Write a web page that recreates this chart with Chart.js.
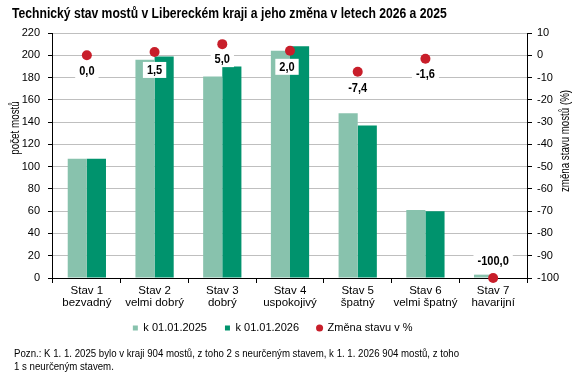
<!DOCTYPE html>
<html><head><meta charset="utf-8">
<script src="https://cdn.jsdelivr.net/npm/chart.js@4.4.1/dist/chart.umd.min.js"></script>
<style>
html,body{margin:0;padding:0;background:#fff;}
#wrap{position:relative;width:576px;height:376px;overflow:hidden;background:#fff;}
#title{position:absolute;left:12px;top:5px;font:bold 14px 'Liberation Sans',Arial,sans-serif;color:#000;white-space:nowrap;transform:scaleX(0.868);transform-origin:0 0;}
#note{position:absolute;left:14px;top:347px;font:11px/13px 'Liberation Sans',Arial,sans-serif;color:#000;white-space:nowrap;transform:scaleX(0.878);transform-origin:0 0;}
canvas{position:absolute;left:0;top:0;}
</style></head>
<body><div id="wrap">
<canvas id="c" width="576" height="376"></canvas>
<div id="title">Technický stav mostů v Libereckém kraji a jeho změna v letech 2026 a 2025</div>
<div id="note">Pozn.: K 1. 1. 2025 bylo v kraji 904 mostů, z toho 2 s neurčeným stavem, k 1. 1. 2026 904 mostů, z toho<br>1 s neurčeným stavem.</div>
</div>
<script>
// ---- data ----
const categories = [["Stav 1","bezvadný"],["Stav 2","velmi dobrý"],["Stav 3","dobrý"],["Stav 4","uspokojivý"],["Stav 5","špatný"],["Stav 6","velmi špatný"],["Stav 7","havarijní"]];
const count2025 = [107, 196, 181, 204, 148, 61, 3];
const count2026 = [107, 199, 190, 208, 137, 60, 0];
const changePct = [0.0, 1.5, 5.0, 2.0, -7.4, -1.6, -100.0];
const seriesNames = ["k 01.01.2025", "k 01.01.2026", "Změna stavu v %"];
const leftAxisTitle = "počet mostů";
const rightAxisTitle = "změna stavu mostů (%)";

// ---- styles ----
const FONT = "'Liberation Sans',Arial,sans-serif";
const COL_LIGHT = '#88C2AD';
const COL_DARK = '#00936D';
const COL_RED = '#C81E2A';
const labelOffsets = [[0,16],[0,18],[0,15],[-3,16],[0,16],[0,15],[0,-17]];

const fmt = v => v.toFixed(1).replace('.', ',');

function narrowText(ctx, txt, x, y, rot, sx) {
  ctx.save();
  ctx.translate(x, y);
  if (rot) ctx.rotate(rot);
  ctx.scale(sx, 1);
  ctx.fillText(txt, 0, 0);
  ctx.restore();
}

const extras = {
  id: 'extras',
  afterLayout(chart) {
    // lift the legend row so it sits just under the two-line category labels
    const lg = chart.legend;
    if (lg) { lg.top -= 6.5; lg.bottom -= 6.5; }
  },
  afterDatasetsDraw(chart) {
    const ctx = chart.ctx;
    const meta = chart.getDatasetMeta(2);
    ctx.save();
    ctx.font = 'bold 13px ' + FONT;
    ctx.textAlign = 'center';
    ctx.textBaseline = 'middle';
    meta.data.forEach((pt, i) => {
      const txt = fmt(changePct[i]);
      const x = pt.x + labelOffsets[i][0], y = pt.y + labelOffsets[i][1];
      const w = ctx.measureText(txt).width * 0.85 + 8;
      ctx.fillStyle = '#fff';
      ctx.fillRect(x - w / 2, y - 8, w, 16);
      ctx.fillStyle = '#000';
      narrowText(ctx, txt, x, y + 0.5, 0, 0.85);
    });
    ctx.restore();
  },
  afterDraw(chart) {
    const ctx = chart.ctx;
    ctx.save();
    ctx.font = '12px ' + FONT;
    ctx.fillStyle = '#000';
    ctx.textAlign = 'center';
    ctx.textBaseline = 'middle';
    narrowText(ctx, leftAxisTitle, 16, 128, -Math.PI / 2, 0.82);
    narrowText(ctx, rightAxisTitle, 566, 141, -Math.PI / 2, 0.81);
    ctx.restore();
  }
};

new Chart(document.getElementById('c'), {
  data: {
    labels: categories,
    datasets: [
      { type: 'bar', label: seriesNames[0], data: count2025, backgroundColor: COL_LIGHT, borderWidth: 0, yAxisID: 'y', pointStyle: 'rect', barPercentage: 1, categoryPercentage: 0.565 },
      { type: 'bar', label: seriesNames[1], data: count2026, backgroundColor: COL_DARK, borderWidth: 0, yAxisID: 'y', pointStyle: 'rect', barPercentage: 1, categoryPercentage: 0.565 },
      { type: 'line', label: seriesNames[2], data: changePct, yAxisID: 'y1', showLine: false, pointRadius: 5, pointHoverRadius: 5, pointBorderWidth: 0, pointBackgroundColor: COL_RED, backgroundColor: COL_RED, borderColor: COL_RED, pointStyle: 'circle', clip: false, order: -1 }
    ]
  },
  options: {
    responsive: false,
    animation: false,
    devicePixelRatio: 1,
    layout: { padding: { top: 33, left: -16.6, right: 14, bottom: 26 } },
    plugins: {
      tooltip: { enabled: false },
      title: { display: false },
      legend: {
        position: 'bottom',
        labels: {
          usePointStyle: true,
          boxWidth: 5, boxHeight: 5,
          padding: 18,
          color: '#000',
          font: { family: FONT, size: 11 },
          sort: (a, b) => a.datasetIndex - b.datasetIndex
        }
      }
    },
    scales: {
      x: {
        grid: { offset: true, drawOnChartArea: false, tickLength: 5, tickColor: '#000' },
        border: { color: '#000', width: 1 },
        ticks: { color: '#000', font: { family: FONT, size: 11.5, lineHeight: 1.12 }, padding: 1, maxRotation: 0, autoSkip: false },
        afterFit: s => { s.height = 33; }
      },
      y: {
        position: 'left', min: 0, max: 220,
        ticks: { stepSize: 20, color: '#000', font: { family: FONT, size: 11 }, padding: 8 },
        grid: { color: '#BFBFBF', tickColor: '#000', tickLength: 5 },
        border: { color: '#000', width: 1 },
        afterFit: s => { s.width = 69.6; }
      },
      y1: {
        position: 'right', min: -100, max: 10,
        ticks: { stepSize: 10, color: '#000', font: { family: FONT, size: 11 }, padding: 5 },
        grid: { drawOnChartArea: false, tickColor: '#000', tickLength: 5 },
        border: { color: '#000', width: 1 },
        afterFit: s => { s.width = 35; }
      }
    }
  },
  plugins: [extras]
});
</script>
</body></html>
